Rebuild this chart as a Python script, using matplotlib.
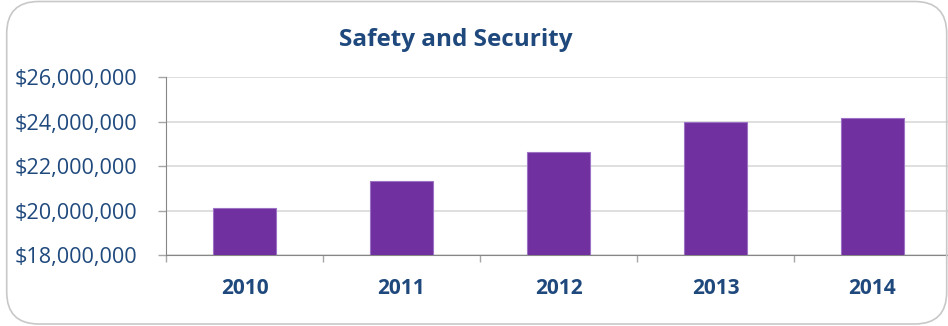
import matplotlib.pyplot as plt
from matplotlib.patches import FancyBboxPatch
from matplotlib.ticker import FuncFormatter, MultipleLocator
import numpy as np

# Spending per year
years = ["2010", "2011", "2012", "2013", "2014"]
amounts = [20110000, 21340000, 22630000, 23990000, 24160000]

TEXT = "#1F497D"
BAR = "#7030A0"

plt.rcParams['font.family'] = ['Open Sans', 'DejaVu Sans']

fig = plt.figure(figsize=(9.48, 3.26), dpi=100)
ax = fig.add_axes([166 / 948, 70.7 / 326, 785 / 948, 178 / 326])

x = np.arange(len(years))
ax.bar(x, amounts, width=0.4, color=BAR, edgecolor="#9B72C4", linewidth=0.8, zorder=3)

ax.set_xlim(-0.5, len(years) - 0.5)
ax.set_ylim(18000000, 26000000)
ax.yaxis.set_major_locator(MultipleLocator(2000000))
ax.yaxis.set_major_formatter(FuncFormatter(lambda v, p: f"${v:,.0f}"))

ax.set_xticks(x)
ax.set_xticklabels(years, fontweight="bold", fontsize=15, color=TEXT)
ax.set_xticks(np.arange(-0.5, len(years)), minor=True)
ax.tick_params(axis="x", which="major", length=0, pad=16)
ax.tick_params(axis="x", which="minor", length=5, color="#A6A6A6", width=1)
ax.tick_params(axis="y", length=6, color="#A6A6A6", width=1, pad=15,
               labelsize=15.6, labelcolor=TEXT)

ax.grid(axis="y", color="#D9D9D9", linewidth=1.2, zorder=0)
for side in ["top", "right"]:
    ax.spines[side].set_visible(False)
ax.spines["left"].set_color("#868686")
ax.spines["bottom"].set_color("#868686")

fig.text(456 / 948, 1 - 40 / 326, "Safety and Security", ha="center", va="center",
         fontsize=17.5, fontweight="bold", color=TEXT)

# rounded outer border
frame = FancyBboxPatch((0.067, 0.02), 9.40, 3.225,
                       boxstyle="round,pad=0,rounding_size=0.32",
                       transform=fig.dpi_scale_trans, fill=False,
                       edgecolor="#C8C8C8", linewidth=1.2)
fig.add_artist(frame)

fig.savefig("out.png", dpi=100)
